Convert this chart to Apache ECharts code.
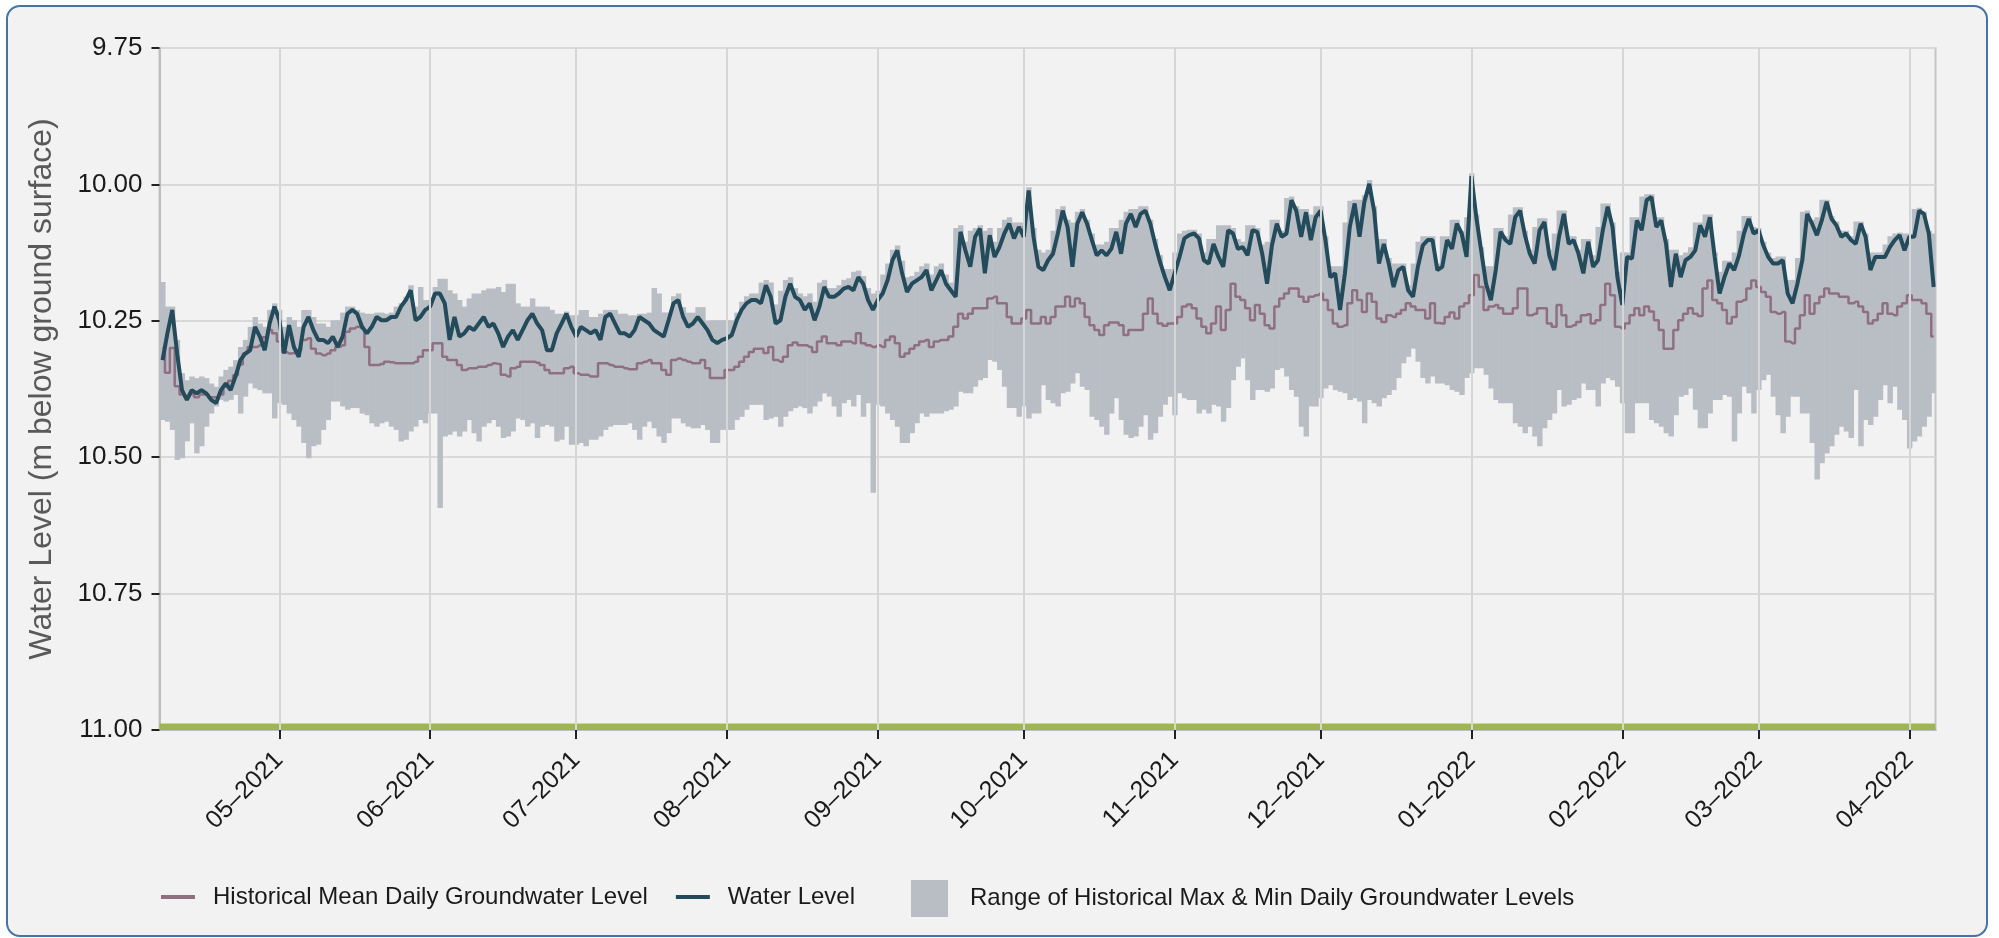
<!DOCTYPE html>
<html>
<head>
<meta charset="utf-8">
<script src="https://cdn.jsdelivr.net/npm/echarts@6/dist/echarts.min.js"></script>
<style>
html,body{margin:0;padding:0;background:#ffffff;}
#frame{position:absolute;left:6px;top:5px;width:1978px;height:928px;border:2px solid #4473a5;border-radius:14px;background:#f2f2f2;}
#chart{position:absolute;left:0;top:0;width:1999px;height:938px;}
</style>
</head>
<body>
<div id="frame"></div>
<div id="chart"></div>
<script>
// ---- data (one value per day, starting 2021-04-07) ----
const firstDay = [2021, 3, 7];
const axisStart = [2021, 3, 6, 9];
const axisEnd = [2022, 3, 6, 9];

const waterLevel = [
10.322,10.273,10.230,10.310,10.377,10.395,10.377,10.383,10.377,10.383,
10.395,10.401,10.377,10.365,10.377,10.352,10.322,10.310,10.304,10.261,
10.279,10.304,10.255,10.224,10.249,10.310,10.258,10.298,10.316,10.261,
10.243,10.267,10.285,10.285,10.291,10.279,10.298,10.279,10.237,10.230,
10.237,10.261,10.273,10.261,10.243,10.249,10.249,10.243,10.243,10.224,
10.212,10.194,10.249,10.243,10.230,10.224,10.200,10.200,10.218,10.285,
10.243,10.279,10.273,10.261,10.267,10.255,10.243,10.261,10.255,10.273,
10.298,10.279,10.267,10.285,10.267,10.249,10.237,10.255,10.267,10.304,
10.304,10.273,10.255,10.237,10.261,10.279,10.261,10.267,10.273,10.267,
10.285,10.243,10.237,10.255,10.273,10.273,10.279,10.267,10.243,10.249,
10.255,10.267,10.273,10.279,10.249,10.218,10.212,10.243,10.261,10.255,
10.243,10.255,10.267,10.285,10.291,10.285,10.282,10.276,10.249,10.230,
10.218,10.212,10.212,10.218,10.185,10.206,10.255,10.249,10.206,10.182,
10.206,10.212,10.230,10.218,10.249,10.224,10.188,10.206,10.206,10.200,
10.191,10.188,10.194,10.170,10.182,10.212,10.230,10.212,10.200,10.176,
10.139,10.121,10.163,10.197,10.182,10.176,10.170,10.157,10.194,10.176,
10.157,10.182,10.194,10.206,10.087,10.121,10.151,10.096,10.081,10.163,
10.093,10.133,10.115,10.090,10.072,10.099,10.078,10.096,10.011,10.096,
10.151,10.157,10.139,10.127,10.090,10.048,10.078,10.151,10.072,10.051,
10.072,10.102,10.130,10.121,10.130,10.118,10.087,10.127,10.072,10.054,
10.078,10.054,10.048,10.072,10.109,10.142,10.170,10.194,10.163,10.133,
10.099,10.093,10.090,10.099,10.139,10.145,10.109,10.133,10.151,10.084,
10.090,10.118,10.115,10.130,10.084,10.087,10.127,10.182,10.112,10.072,
10.096,10.090,10.029,10.048,10.096,10.051,10.102,10.060,10.048,10.102,
10.170,10.163,10.230,10.163,10.078,10.035,10.096,10.032,9.999,10.048,
10.145,10.109,10.145,10.188,10.157,10.151,10.194,10.206,10.151,10.112,
10.102,10.102,10.157,10.151,10.102,10.118,10.072,10.090,10.133,9.985,
10.060,10.121,10.182,10.212,10.157,10.087,10.102,10.109,10.060,10.048,
10.093,10.127,10.145,10.084,10.069,10.130,10.157,10.096,10.054,10.109,
10.102,10.127,10.163,10.105,10.151,10.139,10.084,10.041,10.078,10.170,
10.221,10.133,10.136,10.066,10.084,10.029,10.023,10.078,10.066,10.109,
10.188,10.127,10.170,10.139,10.133,10.121,10.075,10.096,10.060,10.133,
10.200,10.170,10.145,10.157,10.130,10.090,10.063,10.090,10.084,10.112,
10.133,10.145,10.145,10.139,10.200,10.218,10.182,10.139,10.054,10.072,
10.093,10.066,10.032,10.063,10.075,10.096,10.090,10.102,10.109,10.072,
10.096,10.157,10.133,10.133,10.133,10.115,10.102,10.093,10.121,10.096,
10.096,10.048,10.054,10.090,10.188
];

const histMean = [
10.300,10.345,10.300,10.370,10.385,10.390,10.385,10.390,10.385,10.385,
10.390,10.390,10.385,10.370,10.360,10.350,10.330,10.310,10.298,10.298,
10.295,10.280,10.267,10.273,10.288,10.307,10.310,10.309,10.304,10.285,
10.282,10.301,10.310,10.313,10.310,10.304,10.298,10.295,10.270,10.264,
10.261,10.264,10.298,10.331,10.331,10.329,10.325,10.326,10.328,10.328,
10.328,10.328,10.325,10.316,10.304,10.304,10.291,10.291,10.316,10.322,
10.322,10.331,10.340,10.337,10.337,10.334,10.334,10.331,10.328,10.329,
10.349,10.352,10.337,10.334,10.325,10.325,10.325,10.327,10.331,10.340,
10.346,10.346,10.346,10.337,10.334,10.346,10.349,10.349,10.352,10.352,
10.328,10.328,10.331,10.334,10.334,10.337,10.339,10.339,10.328,10.325,
10.322,10.328,10.328,10.340,10.349,10.322,10.319,10.322,10.325,10.328,
10.328,10.322,10.337,10.355,10.355,10.355,10.340,10.340,10.334,10.325,
10.316,10.307,10.301,10.301,10.309,10.298,10.322,10.325,10.316,10.295,
10.290,10.295,10.295,10.298,10.307,10.288,10.279,10.291,10.291,10.295,
10.288,10.288,10.291,10.273,10.291,10.295,10.298,10.295,10.298,10.285,
10.279,10.291,10.316,10.310,10.301,10.295,10.288,10.285,10.298,10.288,
10.285,10.285,10.279,10.261,10.237,10.246,10.237,10.227,10.227,10.227,
10.209,10.206,10.218,10.218,10.243,10.255,10.255,10.246,10.230,10.255,
10.255,10.243,10.255,10.243,10.224,10.224,10.206,10.224,10.209,10.218,
10.243,10.258,10.267,10.276,10.258,10.253,10.253,10.258,10.276,10.267,
10.267,10.267,10.237,10.209,10.237,10.255,10.259,10.255,10.255,10.243,
10.224,10.220,10.227,10.246,10.261,10.273,10.255,10.224,10.267,10.230,
10.182,10.206,10.212,10.227,10.249,10.221,10.237,10.258,10.264,10.224,
10.209,10.200,10.191,10.191,10.206,10.215,10.206,10.203,10.200,10.212,
10.230,10.255,10.261,10.258,10.218,10.194,10.212,10.234,10.200,10.215,
10.246,10.252,10.240,10.243,10.237,10.230,10.218,10.224,10.230,10.230,
10.246,10.218,10.254,10.255,10.243,10.235,10.246,10.224,10.218,10.203,
10.166,10.188,10.230,10.224,10.221,10.227,10.237,10.237,10.227,10.191,
10.191,10.240,10.237,10.227,10.227,10.255,10.261,10.221,10.240,10.261,
10.258,10.252,10.240,10.238,10.255,10.249,10.221,10.182,10.203,10.261,
10.264,10.255,10.240,10.227,10.240,10.224,10.233,10.249,10.267,10.301,
10.301,10.267,10.249,10.237,10.227,10.237,10.241,10.191,10.176,10.212,
10.218,10.230,10.255,10.243,10.215,10.212,10.191,10.176,10.188,10.197,
10.206,10.234,10.237,10.234,10.288,10.291,10.264,10.240,10.203,10.237,
10.218,10.206,10.191,10.200,10.200,10.206,10.206,10.218,10.215,10.224,
10.234,10.255,10.249,10.237,10.218,10.237,10.240,10.224,10.218,10.203,
10.212,10.212,10.218,10.237,10.279
];

const histMax = [
10.179,10.224,10.224,10.285,10.346,10.359,10.352,10.355,10.352,10.355,
10.365,10.371,10.352,10.340,10.334,10.322,10.298,10.285,10.261,10.243,
10.255,10.261,10.230,10.218,10.230,10.261,10.243,10.249,10.261,10.230,
10.230,10.243,10.255,10.255,10.261,10.249,10.249,10.235,10.224,10.224,
10.230,10.235,10.237,10.237,10.235,10.235,10.237,10.235,10.224,10.218,
10.206,10.185,10.224,10.188,10.212,10.212,10.188,10.173,10.173,10.194,
10.200,10.212,10.224,10.209,10.200,10.200,10.194,10.191,10.191,10.188,
10.197,10.182,10.182,10.218,10.224,10.224,10.209,10.224,10.224,10.224,
10.230,10.237,10.237,10.233,10.240,10.240,10.230,10.230,10.243,10.243,
10.237,10.230,10.230,10.230,10.237,10.237,10.240,10.240,10.237,10.237,
10.235,10.190,10.200,10.235,10.235,10.205,10.200,10.225,10.235,10.235,
10.225,10.225,10.250,10.249,10.249,10.249,10.249,10.249,10.235,10.215,
10.205,10.200,10.200,10.180,10.175,10.180,10.220,10.195,10.175,10.170,
10.190,10.200,10.205,10.200,10.215,10.180,10.175,10.190,10.190,10.185,
10.175,10.172,10.160,10.158,10.168,10.190,10.200,10.195,10.165,10.145,
10.120,10.112,10.140,10.170,10.168,10.160,10.150,10.145,10.165,10.150,
10.145,10.165,10.180,10.080,10.075,10.105,10.085,10.080,10.075,10.085,
10.080,10.105,10.080,10.065,10.060,10.070,10.070,10.070,10.005,10.080,
10.120,10.125,10.120,10.085,10.045,10.040,10.065,10.070,10.050,10.045,
10.065,10.090,10.110,10.110,10.105,10.080,10.080,10.065,10.050,10.045,
10.045,10.040,10.040,10.065,10.100,10.130,10.155,10.155,10.125,10.090,
10.085,10.083,10.083,10.090,10.125,10.100,10.100,10.075,10.075,10.075,
10.080,10.100,10.105,10.075,10.075,10.080,10.110,10.105,10.065,10.065,
10.085,10.025,10.022,10.040,10.045,10.045,10.055,10.040,10.040,10.095,
10.150,10.150,10.150,10.070,10.030,10.028,10.028,10.020,9.992,10.040,
10.100,10.100,10.135,10.145,10.145,10.145,10.185,10.145,10.105,10.095,
10.095,10.095,10.145,10.095,10.095,10.065,10.065,10.085,10.060,9.980,
10.055,10.115,10.150,10.150,10.080,10.080,10.095,10.055,10.042,10.042,
10.085,10.120,10.078,10.062,10.062,10.120,10.090,10.048,10.048,10.095,
10.095,10.120,10.100,10.100,10.130,10.078,10.035,10.035,10.070,10.160,
10.125,10.125,10.060,10.060,10.022,10.018,10.018,10.060,10.060,10.100,
10.120,10.120,10.130,10.125,10.115,10.070,10.070,10.055,10.055,10.125,
10.160,10.140,10.140,10.125,10.085,10.058,10.058,10.078,10.080,10.105,
10.125,10.135,10.132,10.132,10.175,10.175,10.135,10.050,10.048,10.065,
10.060,10.028,10.028,10.058,10.068,10.085,10.085,10.095,10.068,10.068,
10.090,10.125,10.125,10.125,10.110,10.095,10.090,10.088,10.090,10.090,
10.045,10.043,10.050,10.085,10.090
];

const histMin = [
10.432,10.435,10.450,10.505,10.502,10.471,10.438,10.493,10.480,10.444,
10.420,10.407,10.395,10.398,10.395,10.386,10.420,10.389,10.365,10.374,
10.377,10.383,10.383,10.429,10.401,10.404,10.420,10.432,10.444,10.474,
10.502,10.480,10.477,10.450,10.432,10.398,10.398,10.407,10.413,10.410,
10.410,10.420,10.423,10.438,10.444,10.438,10.435,10.444,10.450,10.471,
10.468,10.453,10.444,10.432,10.438,10.420,10.420,10.593,10.462,10.459,
10.453,10.462,10.453,10.432,10.456,10.471,10.444,10.438,10.432,10.444,
10.465,10.462,10.453,10.429,10.432,10.444,10.438,10.465,10.444,10.441,
10.444,10.471,10.468,10.444,10.477,10.477,10.474,10.480,10.468,10.468,
10.462,10.450,10.444,10.441,10.441,10.441,10.438,10.450,10.468,10.444,
10.435,10.447,10.462,10.474,10.456,10.429,10.429,10.438,10.444,10.447,
10.447,10.441,10.450,10.474,10.474,10.450,10.450,10.450,10.432,10.426,
10.413,10.404,10.404,10.404,10.432,10.429,10.426,10.444,10.426,10.416,
10.410,10.407,10.410,10.420,10.407,10.398,10.383,10.389,10.407,10.426,
10.401,10.395,10.407,10.386,10.426,10.401,10.565,10.404,10.407,10.420,
10.432,10.444,10.474,10.474,10.456,10.438,10.420,10.426,10.420,10.420,
10.420,10.416,10.413,10.407,10.380,10.383,10.383,10.371,10.359,10.355,
10.322,10.325,10.340,10.371,10.410,10.410,10.426,10.407,10.429,10.420,
10.420,10.368,10.395,10.401,10.407,10.383,10.380,10.365,10.346,10.371,
10.377,10.426,10.432,10.444,10.459,10.420,10.392,10.432,10.459,10.465,
10.462,10.444,10.423,10.468,10.456,10.426,10.404,10.389,10.423,10.383,
10.392,10.395,10.395,10.420,10.413,10.420,10.404,10.407,10.435,10.410,
10.359,10.334,10.319,10.359,10.395,10.377,10.377,10.380,10.374,10.340,
10.337,10.352,10.377,10.389,10.444,10.462,10.407,10.407,10.392,10.374,
10.368,10.377,10.380,10.383,10.395,10.392,10.398,10.438,10.395,10.401,
10.407,10.392,10.386,10.377,10.355,10.328,10.316,10.301,10.325,10.355,
10.365,10.352,10.365,10.365,10.368,10.377,10.380,10.386,10.355,10.346,
10.337,10.337,10.349,10.374,10.395,10.401,10.401,10.401,10.438,10.444,
10.456,10.444,10.462,10.480,10.447,10.432,10.420,10.377,10.407,10.404,
10.395,10.392,10.365,10.377,10.377,10.407,10.365,10.355,10.359,10.371,
10.401,10.456,10.456,10.401,10.401,10.401,10.432,10.438,10.444,10.456,
10.462,10.423,10.389,10.386,10.374,10.413,10.447,10.447,10.420,10.395,
10.395,10.386,10.389,10.471,10.420,10.371,10.383,10.420,10.377,10.359,
10.349,10.389,10.423,10.456,10.426,10.389,10.389,10.420,10.420,10.474,
10.541,10.511,10.493,10.480,10.459,10.444,10.453,10.465,10.377,10.480,
10.432,10.441,10.426,10.395,10.368,10.401,10.371,10.413,10.432,10.484,
10.471,10.462,10.444,10.426,10.383
];

const monthTickLabels = ['2021-05','2021-06','2021-07','2021-08','2021-09','2021-10',
  '2021-11','2021-12','2022-01','2022-02','2022-03','2022-04'];
const wellBottom = 11.00;
const yMin = 9.75, yMax = 11.00, yStep = 0.25;

// ---- build ----
const DAY = 86400000;
const dayTime = k => new Date(firstDay[0], firstDay[1], firstDay[2] + k).getTime();
const xMin = new Date(...axisStart).getTime();
const xMax = new Date(...axisEnd).getTime();
const monthVals = monthTickLabels.map(s => { const p = s.split('-'); return new Date(+p[0], +p[1] - 1, 1).getTime(); });
const pad2 = n => (n < 10 ? '0' : '') + n;

const wlData = waterLevel.map((v, i) => [dayTime(i), v]);
const meanData = histMean.map((v, i) => [dayTime(i), v]);
const bandData = histMax.map((v, i) => [dayTime(i), v, histMin[i]]);

const FONT = '"Liberation Sans", Arial, Helvetica, sans-serif';
const NAME_MEAN = 'Historical Mean Daily Groundwater Level';
const NAME_WL = 'Water Level';
const NAME_RANGE = 'Range of Historical Max & Min Daily Groundwater Levels';

const chart = echarts.init(document.getElementById('chart'), null, {renderer: 'canvas'});
chart.setOption({
  animation: false,
  backgroundColor: 'transparent',
  textStyle: {fontFamily: FONT},
  grid: {left: 159.5, right: 63.5, top: 48, bottom: 208, show: true,
         borderColor: '#c6c6c6', borderWidth: 2, backgroundColor: 'transparent'},
  legend: [
    {data: [NAME_MEAN, NAME_WL], left: 156, top: 880, icon: 'rect', itemWidth: 34, itemHeight: 4,
     itemGap: 28, selectedMode: false,
     textStyle: {fontSize: 24, color: '#1a1a1a', fontFamily: FONT, padding: [0, 0, 0, 13]}},
    {data: [NAME_RANGE], left: 906, top: 875, icon: 'rect', itemWidth: 37, itemHeight: 37,
     selectedMode: false,
     textStyle: {fontSize: 24, color: '#1a1a1a', fontFamily: FONT, padding: [0, 0, 0, 17]}}
  ],
  xAxis: {
    type: 'value', min: xMin, max: xMax, scale: true,
    axisLine: {show: true, onZero: false, lineStyle: {color: '#bdbdbd', width: 2}},
    axisTick: {show: true, customValues: monthVals, length: 9, lineStyle: {color: '#222222', width: 2}},
    axisLabel: {customValues: monthVals, rotate: 45, fontSize: 25, color: '#1a1a1a', fontFamily: FONT, margin: 26,
      formatter: v => { const d = new Date(v); return pad2(d.getMonth() + 1) + '\u2013' + d.getFullYear(); }},
    splitLine: {show: false}
  },
  yAxis: {
    type: 'value', inverse: true, min: yMin, max: yMax, interval: yStep,
    name: 'Water Level (m below ground surface)', nameLocation: 'middle', nameGap: 101,
    nameTextStyle: {fontSize: 32, color: '#595959', fontFamily: FONT},
    axisLine: {show: true, lineStyle: {color: '#bdbdbd', width: 2}},
    axisTick: {show: true, length: 8, lineStyle: {color: '#222222', width: 2}},
    axisLabel: {fontSize: 26, color: '#1a1a1a', fontFamily: FONT, margin: 17, formatter: v => v.toFixed(2)},
    splitLine: {show: true, lineStyle: {color: '#d9d9d9', width: 2}}
  },
  series: [
    {
      name: 'base', type: 'custom', z: 1, silent: true,
      data: [[xMin, xMax, wellBottom]],
      renderItem: (params, api) => {
        const a = api.coord([api.value(0), api.value(2)]);
        const b = api.coord([api.value(1), api.value(2)]);
        return {type: 'rect', shape: {x: a[0], y: a[1] - 6.5, width: b[0] - a[0], height: 6.5},
                style: {fill: '#9fb650'}};
      },
      markLine: {silent: true, symbol: 'none', label: {show: false},
        lineStyle: {color: '#d6d6d6', width: 2, type: 'solid'},
        data: monthVals.map(t => ({xAxis: t}))}
    },
    {
      name: NAME_RANGE, type: 'custom', z: 2,
      itemStyle: {color: '#b9bec5'},
      encode: {x: 0, y: [1, 2]},
      data: bandData,
      renderItem: (params, api) => {
        const t = api.value(0);
        const a = api.coord([t - DAY / 2, api.value(1)]);
        const b = api.coord([t + DAY / 2, api.value(2)]);
        const cs = params.coordSys;
        const r = echarts.graphic.clipRectByRect(
          {x: a[0], y: a[1], width: b[0] - a[0] + 0.6, height: b[1] - a[1]},
          {x: cs.x, y: cs.y, width: cs.width, height: cs.height});
        return r && {type: 'rect', shape: r, style: {fill: '#b9bec5'}};
      }
    },
    {
      name: NAME_MEAN, type: 'line', z: 3, step: 'middle', symbol: 'none', data: meanData,
      color: '#8f7080', lineStyle: {color: '#8f7080', width: 2.5}, itemStyle: {color: '#8f7080'}
    },
    {
      name: NAME_WL, type: 'line', z: 4, symbol: 'none', data: wlData,
      color: '#234b5b', lineStyle: {color: '#234b5b', width: 4}, itemStyle: {color: '#234b5b'}
    }
  ]
});
</script>
</body>
</html>
